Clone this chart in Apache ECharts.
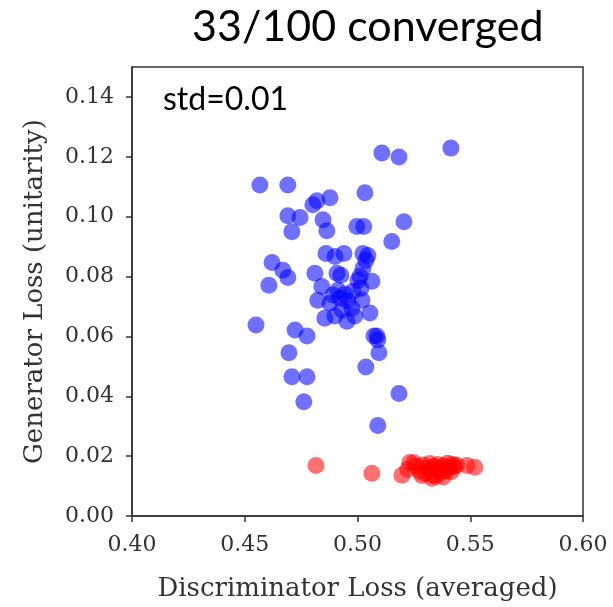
<!DOCTYPE html>
<html>
<head>
<meta charset="utf-8">
<script src="https://cdn.jsdelivr.net/npm/echarts@6/dist/echarts.min.js"></script>
<style>html,body{margin:0;padding:0;background:#fff;}#c{width:613px;height:607px;}</style>
</head>
<body>
<div id="c"></div>
<script>
const titleText = "33/100 converged";
const annotation = "std=0.01";
const xAxisName = "Discriminator Loss (averaged)";
const yAxisName = "Generator Loss (unitarity)";
const xTicks = [0.40, 0.45, 0.50, 0.55, 0.60];
const yTicks = [0.00, 0.02, 0.04, 0.06, 0.08, 0.10, 0.12, 0.14];

const blueX = [0.5414,0.5108,0.5184,0.4567,0.4691,0.5033,0.4878,0.4820,0.4802,0.4691,
  0.4745,0.4847,0.4709,0.4864,0.4997,0.5028,0.5206,0.5152,0.4860,0.4900,
  0.4940,0.5024,0.5046,0.4621,0.4669,0.4691,0.4607,0.4811,0.4909,0.4926,
  0.5011,0.5002,0.5064,0.5024,0.4842,0.4824,0.4891,0.4922,0.4957,0.4980,
  0.5020,0.4855,0.4900,0.4953,0.4988,0.5055,0.4550,0.4723,0.4776,0.5086,
  0.5090,0.5095,0.4696,0.5037,0.4709,0.4776,0.5184,0.4762,0.5090,0.4913,
  0.4944,0.4878,0.4975,0.4931,0.5037,0.5015,0.5073];
const blueY = [0.1229,0.1213,0.1199,0.1106,0.1106,0.1080,0.1063,0.1053,0.1040,0.1003,
  0.0997,0.0990,0.0950,0.0953,0.0967,0.0967,0.0983,0.0917,0.0877,0.0867,
  0.0877,0.0877,0.0870,0.0847,0.0821,0.0797,0.0771,0.0811,0.0811,0.0804,
  0.0801,0.0787,0.0784,0.0827,0.0767,0.0721,0.0738,0.0728,0.0718,0.0751,
  0.0721,0.0661,0.0668,0.0651,0.0668,0.0678,0.0638,0.0621,0.0601,0.0601,
  0.0588,0.0545,0.0545,0.0498,0.0465,0.0465,0.0409,0.0382,0.0302,0.0754,
  0.0741,0.0711,0.0694,0.0688,0.0854,0.0761,0.0601];

const redX = [0.4816,0.5064,0.5197,0.5232,0.5223,0.5485,0.5520,0.5330,0.5380,0.5420,
  0.5260,0.5275,0.5290,0.5300,0.5310,0.5320,0.5325,0.5335,0.5340,0.5350,
  0.5355,0.5365,0.5370,0.5380,0.5390,0.5400,0.5405,0.5415,0.5430,0.5440,
  0.5285,0.5345,0.5250];
const redY = [0.0169,0.0143,0.0136,0.0179,0.0156,0.0169,0.0163,0.0126,0.0130,0.0173,
  0.0166,0.0150,0.0170,0.0143,0.0160,0.0175,0.0150,0.0138,0.0165,0.0155,
  0.0172,0.0145,0.0160,0.0168,0.0150,0.0176,0.0160,0.0148,0.0165,0.0170,
  0.0135,0.0133,0.0178];

const zip = (xs, ys) => xs.map((x, i) => [x, ys[i]]);
const serif = "DejaVu Serif";
const chart = echarts.init(document.getElementById('c'), null, {renderer: 'canvas'});
chart.setOption({
  animation: false,
  backgroundColor: '#fff',
  grid: {left: 132, right: 30, top: 67, bottom: 88, show: true, borderColor: '#333', borderWidth: 1.5, backgroundColor: 'transparent'},
  graphic: [
    {type: 'text', left: 192, top: 6, style: {text: titleText, font: '43px Lato', fill: '#000'}},
    {type: 'text', left: 163, top: 84, style: {text: annotation, font: '32px Lato', fill: '#000'}}
  ],
  xAxis: {
    type: 'value', min: 0.40, max: 0.60, interval: 0.05,
    name: xAxisName, nameLocation: 'middle', nameGap: 60,
    nameTextStyle: {fontFamily: serif, fontSize: 26, color: '#333'},
    axisLine: {show: true, onZero: false, lineStyle: {color: '#333', width: 1.5}},
    axisTick: {show: true, inside: false, length: 6, lineStyle: {color: '#333', width: 1.5}, customValues: xTicks},
    axisLabel: {fontFamily: serif, fontSize: 22, color: '#333', margin: 18, customValues: xTicks, formatter: v => v.toFixed(2)},
    splitLine: {show: false}
  },
  yAxis: {
    type: 'value', min: 0, max: 0.15, interval: 0.02,
    name: yAxisName, nameLocation: 'middle', nameGap: 84,
    nameTextStyle: {fontFamily: serif, fontSize: 26, color: '#333'},
    axisLine: {show: true, onZero: false, lineStyle: {color: '#333', width: 1.5}},
    axisTick: {show: true, inside: false, length: 6, lineStyle: {color: '#333', width: 1.5}, customValues: yTicks},
    axisLabel: {fontFamily: serif, fontSize: 22, color: '#333', margin: 18, customValues: yTicks, formatter: v => v.toFixed(2)},
    splitLine: {show: false}
  },
  series: [
    {type: 'scatter', data: zip(blueX, blueY), symbolSize: 17, itemStyle: {color: 'rgba(0,0,255,0.7)'}, z: 2},
    {type: 'scatter', data: zip(redX, redY), symbolSize: 17, itemStyle: {color: 'rgba(255,0,0,0.7)'}, z: 3}
  ]
});
</script>
</body>
</html>
